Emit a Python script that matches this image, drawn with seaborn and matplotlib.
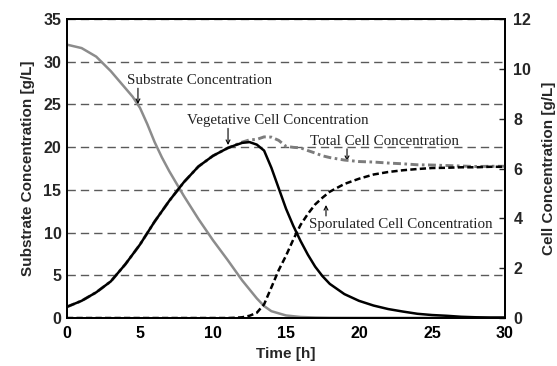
import matplotlib
matplotlib.use("Agg")
import matplotlib.pyplot as plt
import seaborn as sns
import pandas as pd

# Substrate concentration [g/L] over time [h]
sub_time = [0, 1, 2, 3, 4, 4.5, 5, 5.5, 6, 6.5, 7, 8, 9, 10, 11, 12, 13, 13.5,
            14, 15, 16, 17, 18, 20, 22, 24, 26, 28, 30]
sub_conc = [32.0, 31.6, 30.6, 28.9, 26.9, 25.9, 24.6, 22.7, 20.6, 18.8, 17.2,
            14.3, 11.6, 9.1, 6.8, 4.4, 2.3, 1.4, 0.8, 0.3, 0.12, 0.06, 0.03,
            0.02, 0.02, 0.02, 0.02, 0.02, 0.02]

# Cell concentrations [g/L] over time [h]
cell_time = [0, 1, 2, 3, 4, 5, 6, 7, 8, 9, 10, 11, 11.5, 12, 12.5, 13, 13.5, 14,
             14.5, 15, 15.5, 16, 16.5, 17, 17.5, 18, 19, 20, 21, 22, 23, 24, 25,
             26, 27, 28, 29, 30]
vegetative = [0.45, 0.69, 1.03, 1.47, 2.16, 2.95, 3.87, 4.70, 5.45, 6.08, 6.51,
              6.82, 6.93, 7.03, 7.06, 6.96, 6.72, 6.03, 5.21, 4.39, 3.70, 3.09,
              2.54, 2.06, 1.68, 1.37, 0.96, 0.69, 0.50, 0.36, 0.26, 0.17, 0.12,
              0.09, 0.05, 0.03, 0.02, 0.02]
sporulated = [0, 0, 0, 0, 0, 0, 0, 0, 0, 0, 0, 0, 0.01, 0.03, 0.09, 0.21, 0.55,
              1.23, 1.92, 2.50, 3.15, 3.74, 4.18, 4.56, 4.83, 5.07, 5.38, 5.59,
              5.76, 5.86, 5.93, 5.98, 6.02, 6.03, 6.05, 6.05, 6.07, 6.07]

sub_df = pd.DataFrame({"Time": sub_time, "Substrate": sub_conc})
cell_df = pd.DataFrame({"Time": cell_time, "Vegetative": vegetative,
                        "Sporulated": sporulated})
cell_df["Total"] = cell_df["Vegetative"] + cell_df["Sporulated"]

sns.set_style("white")
plt.rcParams["font.family"] = ["Liberation Sans", "DejaVu Sans"]

fig = plt.figure(figsize=(5.57, 3.66), dpi=100)
ax = fig.add_axes([0.1203, 0.1311, 0.7863, 0.8169])
ax2 = ax.twinx()

# Substrate on the left axis
sns.lineplot(data=sub_df, x="Time", y="Substrate", ax=ax, color="#8c8c8c",
             linewidth=1.8, legend=False)

# Cell concentrations on the right axis
sns.lineplot(data=cell_df, x="Time", y="Total", ax=ax2, color="#7c7c7c",
             linewidth=2.1, linestyle=(0, (2.7, 1.2, 0.9, 1.2)), legend=False)
sns.lineplot(data=cell_df, x="Time", y="Sporulated", ax=ax2, color="black",
             linewidth=1.8, linestyle=(0, (2.5, 1.3)), legend=False)
sns.lineplot(data=cell_df, x="Time", y="Vegetative", ax=ax2, color="black",
             linewidth=1.8, legend=False)

ax.set_xlim(0, 30)
ax.set_ylim(0, 35)
ax2.set_ylim(0, 12)
ax.set_xticks(range(0, 31, 5))
ax.set_yticks(range(0, 36, 5))
ax2.set_yticks(range(0, 13, 2))

ax.yaxis.grid(True, linestyle=(0, (6, 3.6)), color="#5a5a5a", linewidth=1.0)
ax.set_axisbelow(True)

for a in (ax, ax2):
    for s in a.spines.values():
        s.set_color("black")
        s.set_linewidth(1.3)

ax.tick_params(axis="x", direction="in", length=3, width=1, pad=6,
               labelsize=11.5, colors="black")
ax.tick_params(axis="y", direction="in", length=0, pad=4, labelsize=11.5)
ax2.tick_params(axis="y", direction="in", length=4, width=1, pad=6,
                labelsize=11.5)
for lbl in ax.get_xticklabels() + ax.get_yticklabels() + ax2.get_yticklabels():
    lbl.set_fontweight("bold")

ax.set_xlabel("Time [h]", fontsize=11, fontweight="bold", labelpad=4)
ax.set_ylabel("Substrate Concentration [g/L]", fontsize=11, fontweight="bold",
              labelpad=6)
ax2.set_ylabel("Cell Concentration [g/L]", fontsize=11, fontweight="bold",
               rotation=90, labelpad=8)

# Curve labels with pointer arrows
serif = ["Liberation Serif", "DejaVu Serif"]
label_size = 10.8
arrow = dict(arrowstyle="->", color="black", lw=0.8, mutation_scale=7,
             shrinkA=0, shrinkB=0)
ax.text(9.08, 27.86, "Substrate Concentration", family=serif,
        fontsize=label_size, ha="center", va="center", color="#222222")
ax.annotate("", xy=(4.86, 25.05), xytext=(4.86, 26.9), arrowprops=arrow)

ax.text(14.42, 23.18, "Vegetative Cell Concentration", family=serif,
        fontsize=label_size, ha="center", va="center", color="#222222")
ax.annotate("", xy=(11.03, 20.25), xytext=(11.03, 22.2), arrowprops=arrow)

ax.text(21.78, 20.72, "Total Cell Concentration", family=serif,
        fontsize=label_size, ha="center", va="center", color="#222222")
ax.annotate("", xy=(19.18, 18.38), xytext=(19.18, 19.8), arrowprops=arrow)

ax.text(22.84, 11.0, "Sporulated Cell Concentration", family=serif,
        fontsize=label_size, ha="center", va="center", color="#222222")
ax.annotate("", xy=(17.74, 13.23), xytext=(17.74, 11.95), arrowprops=arrow)

fig.savefig("out.png", dpi=100)
